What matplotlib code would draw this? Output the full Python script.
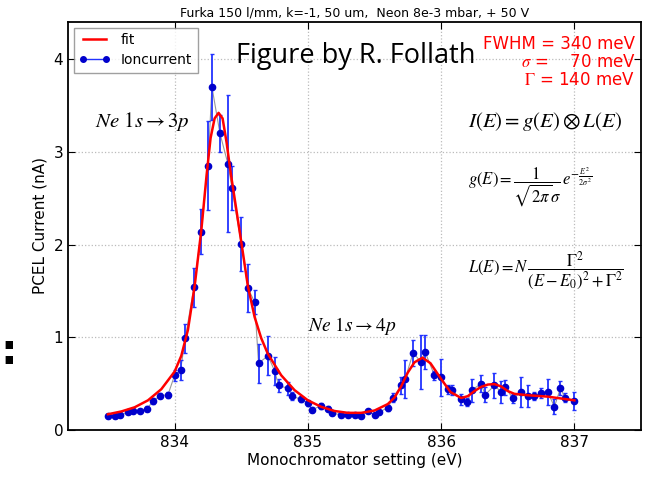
import matplotlib.pyplot as plt
from matplotlib.lines import Line2D

plt.rcParams['mathtext.fontset'] = 'stix'

# measured points (Monochromator setting in eV, current in nA)
energy = [833.50, 833.55, 833.59, 833.65, 833.69, 833.74, 833.79, 833.84, 833.89, 833.95,
          834.00, 834.045, 834.08, 834.145, 834.20, 834.25, 834.28, 834.34, 834.40, 834.43,
          834.50, 834.55, 834.60, 834.63, 834.70, 834.75, 834.78, 834.85, 834.88, 834.945,
          835.00, 835.03, 835.10, 835.15, 835.18, 835.25, 835.30, 835.35, 835.40, 835.45,
          835.50, 835.53, 835.60, 835.64, 835.70, 835.73, 835.79, 835.85, 835.88, 835.95,
          836.00, 836.05, 836.08, 836.15, 836.195, 836.23, 836.30, 836.33, 836.40, 836.45,
          836.48, 836.54, 836.60, 836.65, 836.70, 836.75, 836.80, 836.85, 836.895, 836.93,
          837.00]
current = [0.154, 0.147, 0.158, 0.19, 0.21, 0.21, 0.23, 0.31, 0.37, 0.38,
           0.59, 0.65, 0.99, 1.54, 2.14, 2.85, 3.70, 3.20, 2.87, 2.61,
           2.01, 1.53, 1.38, 0.72, 0.80, 0.64, 0.48, 0.45, 0.37, 0.33,
           0.29, 0.22, 0.26, 0.23, 0.18, 0.165, 0.16, 0.16, 0.15, 0.20,
           0.165, 0.19, 0.24, 0.35, 0.48, 0.55, 0.835, 0.73, 0.84, 0.59,
           0.57, 0.44, 0.43, 0.33, 0.30, 0.43, 0.50, 0.38, 0.48, 0.41,
           0.46, 0.34, 0.41, 0.37, 0.365, 0.40, 0.41, 0.25, 0.45, 0.35,
           0.315]
err = [0.02, 0.02, 0.02, 0.02, 0.02, 0.02, 0.025, 0.03, 0.03, 0.03,
       0.06, 0.11, 0.155, 0.21, 0.24, 0.48, 0.36, 0.20, 0.74, 0.24,
       0.29, 0.26, 0.13, 0.21, 0.21, 0.15, 0.07, 0.07, 0.045, 0.03,
       0.03, 0.025, 0.03, 0.03, 0.02, 0.02, 0.02, 0.02, 0.02, 0.02,
       0.02, 0.02, 0.03, 0.045, 0.09, 0.21, 0.14, 0.29, 0.18, 0.05,
       0.20, 0.05, 0.05, 0.06, 0.045, 0.125, 0.09, 0.08, 0.13, 0.12,
       0.08, 0.05, 0.16, 0.12, 0.04, 0.05, 0.14, 0.08, 0.075, 0.045,
       0.10]

# fit curve
fit_e = [833.50, 833.60, 833.70, 833.80, 833.90, 834.00, 834.05, 834.10, 834.15, 834.20,
         834.24, 834.27, 834.30, 834.33, 834.36, 834.39, 834.42, 834.45, 834.50, 834.55,
         834.60, 834.65, 834.70, 834.80, 834.90, 835.00, 835.10, 835.20, 835.30, 835.40,
         835.50, 835.60, 835.65, 835.70, 835.75, 835.80, 835.86, 835.92, 836.00, 836.07,
         836.15, 836.20, 836.25, 836.30, 836.35, 836.40, 836.45, 836.50, 836.55, 836.65,
         836.80, 836.90, 837.00]
fit_i = [0.17, 0.20, 0.245, 0.32, 0.44, 0.63, 0.80, 1.08, 1.55, 2.15,
         2.75, 3.15, 3.36, 3.42, 3.36, 3.10, 2.78, 2.50, 2.03, 1.55,
         1.22, 0.99, 0.82, 0.59, 0.43, 0.32, 0.25, 0.205, 0.185, 0.185,
         0.21, 0.28, 0.35, 0.47, 0.62, 0.73, 0.78, 0.72, 0.55, 0.41,
         0.345, 0.365, 0.42, 0.465, 0.49, 0.495, 0.47, 0.42, 0.39, 0.375,
         0.36, 0.34, 0.32]

fig = plt.figure(figsize=(6.49, 4.78), dpi=100)
ax = fig.add_axes([0.1048, 0.1004, 0.8829, 0.8536])

# data
ax.plot(energy, current, color='#999999', lw=0.8, zorder=2)
ax.errorbar(energy, current, yerr=err, fmt='o', color='#0000cc', ms=4.5,
            ecolor='#2233ff', elinewidth=1.3, capsize=1.5, zorder=3)
ax.plot(fit_e, fit_i, color='red', lw=1.8, zorder=4)

ax.set_xlim(833.2, 837.5)
ax.set_ylim(0, 4.4)
ax.set_xticks([834, 835, 836, 837])
ax.set_yticks([0, 1, 2, 3, 4])
ax.tick_params(direction='in', top=True, right=True, length=5, labelsize=11)
ax.grid(True, ls=':', color='#bbbbbb', lw=0.9)
for s in ax.spines.values():
    s.set_linewidth(1.3)

ax.set_xlabel('Monochromator setting (eV)', fontsize=11, labelpad=2)
ax.set_ylabel('PCEL Current (nA)', fontsize=11)
ax.set_title('Furka 150 l/mm, k=-1, 50 um,  Neon 8e-3 mbar, + 50 V', fontsize=9, pad=4)

handles = [Line2D([], [], color='red', lw=1.8),
           Line2D([], [], color='#2233ff', lw=1, marker='o', ms=4,
                  markerfacecolor='#0000cc', markeredgecolor='#0000cc')]
leg = ax.legend(handles, ['fit', 'Ioncurrent'], loc='upper left', numpoints=2,
                fontsize=10, fancybox=False, borderaxespad=0.4,
                handlelength=2.2, borderpad=0.4, labelspacing=0.45)
leg.get_frame().set_edgecolor('#888888')

# annotations
ax.text(0.502, 0.917, 'Figure by R. Follath', transform=ax.transAxes, ha='center', va='center',
        fontsize=19.5, family='Open Sans')
ax.text(0.99, 0.947, 'FWHM = 340 meV', transform=ax.transAxes, ha='right', va='center',
        fontsize=12, color='red')
ax.text(0.99, 0.902, r'$\sigma$ =    70 meV', transform=ax.transAxes, ha='right', va='center',
        fontsize=12, color='red')
ax.text(0.99, 0.857, r'$\Gamma$ = 140 meV', transform=ax.transAxes, ha='right', va='center',
        fontsize=12, color='red')

ax.text(833.4, 3.27, r'$Ne\ 1s \rightarrow 3p$', fontsize=15)
ax.text(835.0, 1.07, r'$Ne\ 1s \rightarrow 4p$', fontsize=14)
ax.text(836.2, 3.27, r'$I(E) = g(E) \otimes L(E)$', fontsize=15)
ax.text(836.2, 2.62, r'$g(E) = \dfrac{1}{\sqrt{2\pi}\sigma}\, e^{-\frac{E^2}{2\sigma^2}}$',
        fontsize=12, va='center')
ax.text(836.2, 1.72, r'$L(E) = N\,\dfrac{\Gamma^2}{\left(E - E_0\right)^2 + \Gamma^2}$',
        fontsize=12, va='center')

fig.text(0.0, 0.264, ':', fontsize=30, fontweight='bold', ha='left', va='center')

fig.savefig('out.png', dpi=100)
